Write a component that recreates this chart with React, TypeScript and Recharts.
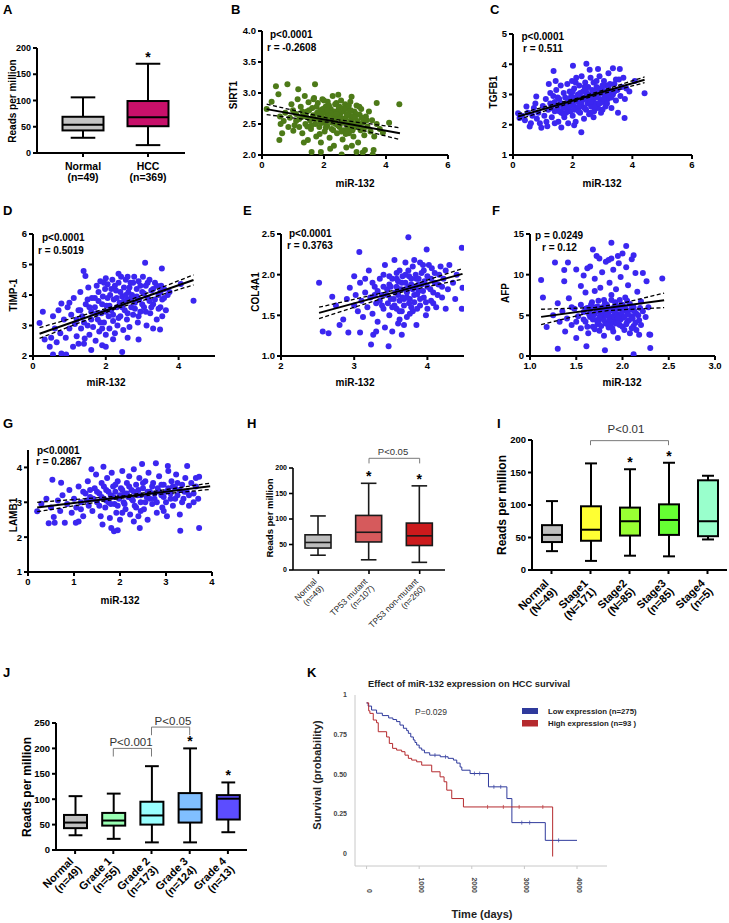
import React from 'react';
import { ScatterChart, Scatter, XAxis, YAxis, BarChart, Bar, ReferenceLine, LineChart, Line } from 'recharts';

const FONT = "'Liberation Sans', Arial, Helvetica, sans-serif";

// ---------------- Panel A (box) ----------------
const aCategories = ['Normal', 'HCC'];
const aCounts = ['(n=49)', '(n=369)'];
const aMin = [29, 15];
const aQ1 = [43, 51];
const aMedian = [54, 68];
const aQ3 = [69, 99];
const aMax = [106, 170];
const aStar = [false, true];
const aColors = ['#c4c4c4', '#c8106a'];

// ---------------- Panel H (box) ----------------
const hCategories = ['Normal', 'TP53 mutant', 'TP53 non-mutant'];
const hCounts = ['(n=49)', '(n=107)', '(n=260)'];
const hMin = [29, 20, 15];
const hQ1 = [43, 55, 48];
const hMedian = [54, 74, 67];
const hQ3 = [69, 107, 92];
const hMax = [106, 170, 165];
const hStar = [false, true, true];
const hColors = ['#bdbdbd', '#d65a5c', '#cc1a1c'];
const hBrackets = [{ from: 'TP53 mutant', to: 'TP53 non-mutant', y: 219, drop: 209 }];

// ---------------- Panel I (box) ----------------
const iCategories = ['Normal', 'Stage1', 'Stage2', 'Stage3', 'Stage4'];
const iCounts = ['(N=49)', '(N=171)', '(N=85)', '(n=85)', '(n=5)'];
const iMin = [29, 14, 22, 21, 47];
const iQ1 = [43, 45, 53, 54, 52];
const iMedian = [54, 62, 75, 77, 75];
const iQ3 = [69, 98, 96, 101, 138];
const iMax = [106, 164, 155, 165, 145];
const iStar = [false, false, true, true, false];
const iColors = ['#bfbfbf', '#ffff33', '#99ff33', '#66ff33', '#99ffcc'];
const iBrackets = [{ from: 'Stage1', to: 'Stage3', y: 199, drop: 192 }];

// ---------------- Panel J (box) ----------------
const jCategories = ['Normal', 'Grade 1', 'Grade 2', 'Grade 3', 'Grade 4'];
const jCounts = ['(n=49)', '(n=55)', '(n=173)', '(n=124)', '(n=13)'];
const jMin = [29, 22, 15, 15, 35];
const jQ1 = [43, 48, 50, 54, 60];
const jMedian = [54, 58, 68, 80, 101];
const jQ3 = [69, 73, 95, 112, 108];
const jMax = [106, 111, 165, 200, 133];
const jStar = [false, false, false, true, true];
const jColors = ['#bfbfbf', '#99ffb3', '#99ffff', '#80bfff', '#5c4dff'];
const jBrackets = [
  { from: 'Grade 1', to: 'Grade 2', y: 200, drop: 184 },
  { from: 'Grade 2', to: 'Grade 3', y: 242, drop: 226 },
];

// ---------------- Scatter panels ----------------
const sirt1Points: [number, number][] = [
  [0.15,2.74],[0.31,2.86],[0.45,3.11],[0.53,2.98],[0.56,2.24],[0.58,2.62],[0.82,3.14],[1.17,3.06],[1.6,2.05],[1.71,3.14],[2.57,2.01],[2.46,2.97],[2.89,2.94],[3.05,2.05],[3.25,2.04],[3.32,2.08],[3.6,2.08],[3.57,2.01],[3.7,2.84],[4.1,2.52],[4.43,2.82],[1.01,2.39],
  [0.6,2.5],[0.7,2.55],[0.75,2.68],[0.9,2.6],[0.95,2.82],[1.0,2.72],[1.05,2.48],[1.1,2.66],[1.15,2.9],[1.2,2.58],[1.25,2.78],[1.3,2.35],[1.32,2.62],[1.38,2.95],[1.4,2.5],[1.45,2.7],[1.48,2.24],[1.5,2.85],[1.55,2.56],[1.58,2.42],[1.62,2.76],[1.65,2.64],[1.68,2.92],[1.72,2.5],[1.75,2.3],[1.78,2.68],[1.8,2.84],[1.82,2.58],[1.85,2.45],[1.88,2.72],[1.9,2.2],[1.92,2.62],[1.95,2.9],[1.98,2.52],[2.0,2.68],[2.02,2.38],[2.05,2.78],[2.08,2.6],[2.1,2.47],[2.12,2.86],[2.15,2.66],[2.18,2.28],[2.2,2.56],[2.22,2.74],[2.25,2.42],[2.28,2.95],[2.3,2.62],[2.32,2.15],[2.35,2.7],[2.38,2.5],[2.4,2.84],[2.42,2.35],[2.45,2.6],[2.48,2.76],[2.5,2.45],[2.52,2.66],[2.55,2.88],[2.58,2.55],[2.6,2.25],[2.62,2.7],[2.65,2.4],[2.68,2.82],[2.7,2.6],[2.72,2.12],[2.75,2.5],[2.78,2.74],[2.8,2.35],[2.82,2.64],[2.85,2.86],[2.88,2.48],[2.9,2.58],[2.95,2.3],[2.98,2.7],[3.0,2.45],[3.05,2.8],[3.08,2.55],[3.1,2.2],[3.15,2.65],[3.18,2.4],[3.2,2.74],[3.25,2.52],[3.3,2.32],[3.35,2.62],[3.4,2.46],[3.45,2.7],[3.5,2.38],[3.55,2.56],[3.62,2.3],[3.7,2.5],[3.8,2.42],[3.9,2.36],[1.35,2.2],[1.9,2.05],[2.2,2.1],[2.9,2.15],[0.85,2.45],[0.65,2.35],
  [1.42,2.62],[1.52,2.72],[1.6,2.48],[1.7,2.58],[1.76,2.78],[1.84,2.66],[1.9,2.52],[1.96,2.74],[2.04,2.56],[2.06,2.44],[2.14,2.58],[2.16,2.8],[2.24,2.66],[2.26,2.52],[2.34,2.58],[2.36,2.82],[2.44,2.48],[2.46,2.7],[2.54,2.6],[2.56,2.38],[2.64,2.58],[2.66,2.76],[2.74,2.66],[2.76,2.42],[2.84,2.55],[2.86,2.72],[2.94,2.62],[2.96,2.5],[3.04,2.66],[3.12,2.48],[3.22,2.6],[3.28,2.42],[3.38,2.56],[1.46,2.46],[1.66,2.9],[1.86,2.34],[2.0,2.88],[2.1,2.72],[2.3,2.4],[2.4,2.66],[2.5,2.78],[2.6,2.52],[2.7,2.34],[2.8,2.8],[2.92,2.4],[3.0,2.6],[3.14,2.78],[1.3,2.7],[1.2,2.45],[1.1,2.55],
];
const sirt1Fit: [number, number][] = [[0.15,2.74],[4.45,2.35]];
const sirt1Upper: [number, number][] = [[0.15,2.82],[2.2,2.585],[4.45,2.44]];
const sirt1Lower: [number, number][] = [[0.15,2.65],[2.2,2.525],[4.45,2.25]];

const tgfb1Points: [number, number][] = [
  [0.17,2.38],[0.56,1.94],[0.78,2.93],[1.36,3.78],[2.01,3.95],[2.29,1.75],[2.46,4.02],[1.62,1.91],[3.74,2.22],[4.41,3.04],[4.08,3.45],[3.58,3.84],[3.35,3.87],[1.43,3.45],[0.22,2.22],[0.95,1.9],[2.57,3.82],[2.85,3.84],
  [0.3,2.3],[0.4,2.15],[0.5,2.4],[0.6,2.05],[0.65,2.3],[0.7,2.55],[0.8,2.2],[0.85,2.4],[0.9,2.05],[1.0,2.62],[1.05,2.3],[1.1,2.85],[1.12,2.1],[1.18,2.5],[1.2,3.35],[1.25,2.7],[1.3,2.25],[1.35,2.95],[1.4,2.45],[1.45,3.15],[1.5,2.6],[1.52,2.1],[1.55,2.85],[1.6,3.3],[1.62,2.4],[1.65,2.7],[1.7,3.05],[1.72,2.25],[1.75,2.9],[1.8,2.55],[1.82,3.35],[1.85,2.05],[1.88,2.75],[1.9,3.1],[1.92,2.45],[1.95,2.95],[1.98,3.45],[2.0,2.3],[2.02,2.65],[2.05,3.2],[2.08,2.85],[2.1,2.1],[2.12,3.55],[2.15,2.55],[2.18,3.0],[2.2,2.75],[2.22,3.3],[2.25,2.4],[2.28,2.9],[2.3,3.6],[2.32,2.6],[2.35,3.1],[2.38,2.2],[2.4,2.85],[2.42,3.4],[2.45,2.5],[2.48,3.0],[2.5,2.7],[2.52,3.25],[2.55,2.35],[2.58,2.95],[2.6,3.55],[2.62,2.6],[2.65,3.15],[2.68,2.8],[2.7,3.4],[2.72,2.45],[2.75,3.0],[2.78,2.7],[2.8,3.25],[2.85,2.55],[2.88,3.05],[2.9,3.6],[2.92,2.85],[2.95,2.4],[2.98,3.2],[3.0,2.75],[3.05,3.45],[3.08,2.95],[3.1,2.6],[3.15,3.3],[3.18,2.85],[3.2,3.7],[3.25,3.1],[3.3,2.55],[3.35,3.0],[3.4,3.35],[3.45,2.8],[3.5,3.15],[3.52,2.4],[3.55,3.5],[3.6,2.95],[3.65,3.25],[3.7,3.55],[3.75,2.85],[3.8,3.2],[3.9,3.1],[1.15,1.95],[1.4,2.05],[0.45,2.6],[0.75,2.7],[1.25,3.05],[2.05,1.98],
  [1.55,2.45],[1.6,2.7],[1.68,2.55],[1.75,2.65],[1.78,2.4],[1.85,2.85],[1.9,2.6],[1.95,2.75],[2.0,2.9],[2.05,2.5],[2.1,2.8],[2.15,2.95],[2.2,2.6],[2.25,3.05],[2.3,2.75],[2.35,2.9],[2.4,2.55],[2.45,3.1],[2.5,2.85],[2.55,3.0],[2.6,2.75],[2.65,2.95],[2.7,3.1],[2.75,2.6],[2.8,2.9],[2.85,3.2],[2.9,2.7],[2.95,3.05],[3.0,3.3],[3.05,2.85],[3.1,3.1],[3.15,2.7],[3.2,3.0],[3.25,3.35],[3.3,2.9],[3.4,3.1],[3.45,3.5],[1.5,2.9],[1.7,2.35],[2.0,3.1],[2.2,2.45],[2.4,3.25],[2.6,2.4],[2.8,3.45],[3.0,2.5],[3.2,3.25],[1.3,2.55],[1.4,2.75],[2.1,3.4],[2.7,2.25],
];
const tgfb1Fit: [number, number][] = [[0.17,2.27],[4.41,3.49]];
const tgfb1Upper: [number, number][] = [[0.17,2.36],[2.3,2.92],[4.41,3.58]];
const tgfb1Lower: [number, number][] = [[0.17,2.17],[2.3,2.84],[4.41,3.39]];

const timp1Points: [number, number][] = [
  [0.18,3.08],[0.32,2.54],[0.55,2.05],[0.78,2.08],[0.91,2.05],[0.78,3.72],[1.39,4.79],[1.44,4.62],[1.42,2.57],[2.45,2.13],[3.08,5.06],[3.54,4.87],[3.49,2.87],[4.41,3.81],[4.06,4.36],[2.9,2.54],[0.46,2.3],[0.27,3.45],
  [0.5,2.6],[0.55,3.3],[0.6,2.9],[0.65,2.45],[0.7,3.5],[0.75,2.75],[0.85,3.2],[0.9,2.6],[0.95,3.6],[1.0,2.9],[1.05,3.35],[1.1,2.3],[1.12,3.9],[1.15,3.05],[1.2,2.65],[1.25,3.5],[1.3,4.1],[1.32,2.9],[1.35,3.3],[1.4,2.4],[1.45,3.7],[1.5,3.0],[1.52,4.25],[1.55,2.7],[1.6,3.45],[1.62,3.9],[1.65,2.95],[1.7,3.6],[1.72,2.5],[1.75,4.3],[1.78,3.2],[1.8,3.8],[1.82,2.8],[1.85,4.45],[1.88,3.4],[1.9,2.35],[1.92,3.95],[1.95,3.1],[1.98,4.2],[2.0,2.7],[2.02,3.65],[2.05,4.35],[2.08,3.3],[2.1,2.9],[2.12,4.0],[2.15,3.5],[2.18,4.5],[2.2,3.15],[2.22,3.85],[2.25,2.75],[2.28,4.15],[2.3,3.6],[2.32,3.0],[2.35,4.4],[2.38,3.75],[2.4,3.3],[2.42,4.6],[2.45,3.95],[2.48,2.85],[2.5,4.25],[2.52,3.5],[2.55,4.5],[2.58,3.2],[2.6,3.85],[2.62,4.1],[2.65,2.95],[2.68,4.4],[2.7,3.6],[2.72,4.0],[2.75,3.35],[2.78,4.6],[2.8,3.75],[2.85,4.2],[2.88,3.1],[2.9,4.45],[2.92,3.85],[2.95,3.45],[3.0,4.1],[3.02,4.6],[3.05,3.6],[3.1,4.3],[3.12,3.0],[3.15,3.9],[3.2,4.5],[3.22,3.4],[3.25,4.15],[3.3,3.7],[3.35,4.4],[3.4,3.2],[3.45,4.0],[3.5,3.6],[3.52,4.3],[3.55,3.85],[3.6,4.2],[3.65,3.5],[3.7,4.0],[3.75,4.1],[1.25,2.4],[2.0,2.3],[1.6,2.2],[2.6,2.6],[1.0,3.75],[3.3,2.9],
  [1.55,3.6],[1.6,3.2],[1.7,3.9],[1.75,3.4],[1.8,4.1],[1.85,3.1],[1.9,3.7],[1.95,4.4],[2.0,3.45],[2.05,3.9],[2.1,3.65],[2.15,4.2],[2.2,3.35],[2.25,4.3],[2.3,3.9],[2.35,3.25],[2.4,4.1],[2.45,3.6],[2.5,3.8],[2.55,4.0],[2.6,3.4],[2.65,4.25],[2.7,3.9],[2.75,4.4],[2.8,3.55],[2.85,3.95],[2.9,3.3],[2.95,4.3],[3.0,3.7],[3.05,4.05],[3.1,3.45],[3.15,4.4],[3.2,3.8],[3.25,3.6],[3.3,4.2],[3.35,3.85],[3.4,4.3],[3.45,3.55],[3.5,4.1],[3.55,3.3],[3.6,3.9],[1.4,3.1],[1.3,3.5],[1.2,3.2],[1.5,3.85],[2.0,4.55],[2.35,4.7],[2.6,4.6],[1.9,2.9],[2.2,2.55],
];
const timp1Fit: [number, number][] = [[0.18,2.73],[4.41,4.49]];
const timp1Upper: [number, number][] = [[0.18,2.93],[2.2,3.62],[4.41,4.66]];
const timp1Lower: [number, number][] = [[0.18,2.58],[2.2,3.52],[4.41,4.33]];

const col4a1Points: [number, number][] = [
  [2.52,1.9],[2.57,1.3],[2.65,1.28],[2.7,1.73],[2.8,1.38],[2.92,1.29],[3.07,2.28],[3.08,1.29],[3.26,1.26],[3.23,1.14],[3.47,1.12],[3.65,1.26],[3.74,2.46],[3.99,2.31],[4.47,2.33],[4.47,1.58],[4.48,1.84],[4.25,1.58],[2.94,1.84],[3.0,1.98],
  [2.85,1.45],[2.9,1.7],[3.0,1.62],[3.02,1.75],[3.05,1.55],[3.08,1.9],[3.1,1.68],[3.12,1.48],[3.15,1.78],[3.18,1.6],[3.2,2.05],[3.22,1.72],[3.25,1.52],[3.28,1.85],[3.3,1.65],[3.32,1.42],[3.35,1.95],[3.38,1.75],[3.4,1.58],[3.42,2.12],[3.45,1.82],[3.48,1.5],[3.5,1.7],[3.52,1.95],[3.55,1.62],[3.55,2.18],[3.58,1.85],[3.6,1.4],[3.6,1.75],[3.62,2.05],[3.65,1.55],[3.65,1.9],[3.68,1.7],[3.7,2.15],[3.7,1.82],[3.72,1.48],[3.75,1.98],[3.75,1.65],[3.78,1.88],[3.8,2.1],[3.8,1.55],[3.82,1.75],[3.85,1.95],[3.85,1.38],[3.88,1.8],[3.9,2.15],[3.9,1.62],[3.92,1.88],[3.95,1.72],[3.95,2.05],[3.98,1.5],[4.0,1.85],[4.02,2.12],[4.05,1.68],[4.05,1.95],[4.08,1.78],[4.1,2.02],[4.12,1.6],[4.15,1.88],[4.18,2.1],[4.2,1.72],[4.22,1.95],[4.25,2.05],[4.28,1.82],[4.3,2.12],[4.35,1.9],[4.38,1.7],[4.4,2.0],[3.42,1.35],[3.52,1.3],[3.68,1.38],[3.35,1.68],[3.58,1.58],[3.62,1.68],[3.72,1.72],[3.78,1.6],[3.48,1.88],[3.88,1.95],[3.4,2.0],[3.15,1.95],[2.75,1.62],[3.58,1.95],[3.82,2.18],[4.0,1.58],[3.3,1.3],
  [3.32,1.8],[3.38,1.62],[3.45,1.75],[3.5,1.85],[3.52,1.6],[3.56,1.78],[3.6,1.92],[3.62,1.55],[3.64,1.82],[3.66,1.98],[3.68,1.62],[3.7,1.9],[3.72,1.78],[3.74,2.05],[3.76,1.7],[3.78,1.95],[3.8,1.82],[3.82,1.66],[3.84,2.0],[3.86,1.76],[3.88,1.88],[3.9,1.7],[3.92,2.02],[3.94,1.8],[3.96,1.92],[3.98,1.66],[4.0,1.98],[4.04,1.82],[4.06,2.08],[4.1,1.9],[4.14,1.75],[4.16,2.0],[4.2,1.85],[3.46,1.65],[3.54,1.7],[3.66,1.72],[3.74,1.85],[3.86,1.58],[3.58,2.02],[3.48,1.98],[3.62,1.45],[3.76,1.52],[3.4,1.85],[3.28,1.75],[3.25,1.9],[3.94,2.12],[4.08,1.65],[3.7,2.0],[3.6,1.82],[3.84,1.85],
];
const col4a1Fit: [number, number][] = [[2.52,1.53],[4.48,2.01]];
const col4a1Upper: [number, number][] = [[2.52,1.6],[3.65,1.83],[4.48,2.075]];
const col4a1Lower: [number, number][] = [[2.52,1.46],[3.65,1.785],[4.48,1.945]];

const afpPoints: [number, number][] = [
  [1.12,9.33],[1.14,7.19],[1.27,11.5],[1.3,0.9],[1.41,11.5],[1.37,10.56],[1.37,9.2],[1.5,10.64],[1.61,1.19],[1.81,0.7],[2.12,0.2],[2.3,0.98],[2.29,2.63],[2.43,9.53],[2.26,9.2],[1.88,13.93],[2.04,13.52],[1.68,13.1],[2.12,12.4],[1.18,3.57],
  [1.25,5.0],[1.3,6.5],[1.32,4.2],[1.35,5.5],[1.38,3.0],[1.4,4.6],[1.42,7.1],[1.45,3.8],[1.48,5.8],[1.5,2.2],[1.52,4.9],[1.55,6.3],[1.55,3.4],[1.58,5.4],[1.6,4.2],[1.6,7.8],[1.62,5.9],[1.63,2.8],[1.65,4.8],[1.65,11.0],[1.67,6.6],[1.68,3.6],[1.7,5.2],[1.7,9.5],[1.72,4.4],[1.72,12.3],[1.73,6.1],[1.75,3.1],[1.75,5.6],[1.76,8.4],[1.78,4.7],[1.78,10.3],[1.8,6.9],[1.8,2.5],[1.8,5.1],[1.82,4.0],[1.82,11.6],[1.83,6.3],[1.85,3.5],[1.85,5.4],[1.86,9.0],[1.87,4.6],[1.88,7.5],[1.88,12.0],[1.9,5.9],[1.9,3.0],[1.9,10.6],[1.92,4.3],[1.92,6.6],[1.93,8.2],[1.95,5.1],[1.95,2.2],[1.96,11.4],[1.97,3.8],[1.98,6.1],[1.98,9.7],[2.0,4.7],[2.0,12.6],[2.01,5.6],[2.02,3.2],[2.03,7.2],[2.04,10.9],[2.05,4.2],[2.05,5.4],[2.06,8.7],[2.08,6.4],[2.08,2.8],[2.1,4.9],[2.1,11.9],[2.12,6.0],[2.12,3.7],[2.14,10.2],[2.15,5.2],[2.16,7.9],[2.18,4.4],[2.18,2.6],[2.2,6.7],[2.22,5.5],[2.22,10.2],[2.25,4.8],[2.28,6.0],[2.3,2.6],[1.58,9.9],[1.62,10.8],[1.75,12.0],[1.95,12.3],[1.85,11.8],[1.7,8.0],[1.88,4.0],[1.78,6.0],[1.68,4.5],[1.98,4.5],[2.05,6.8],[1.92,5.3],[1.82,5.8],[1.73,3.9],[1.65,5.7],[2.15,3.2],[1.55,8.6],[1.45,6.0],[1.5,4.2],
  [1.58,4.5],[1.6,5.8],[1.62,3.6],[1.64,5.1],[1.66,6.3],[1.68,4.9],[1.7,3.3],[1.7,6.0],[1.72,5.5],[1.74,4.2],[1.74,6.8],[1.76,5.0],[1.77,3.7],[1.79,5.7],[1.8,4.4],[1.81,6.5],[1.83,5.0],[1.84,3.9],[1.84,6.0],[1.86,4.5],[1.87,5.6],[1.88,6.9],[1.89,3.4],[1.9,4.9],[1.91,5.5],[1.93,4.0],[1.93,6.2],[1.94,5.0],[1.96,4.3],[1.96,5.8],[1.97,6.9],[1.99,5.2],[2.0,3.6],[2.0,6.3],[2.02,4.8],[2.03,5.9],[2.04,3.9],[2.06,5.1],[2.07,4.4],[2.09,5.7],[2.1,3.4],[2.11,4.6],[2.13,5.5],[2.14,4.1],[2.17,5.0],[2.19,5.9],[2.2,3.8],[1.75,4.75],[1.85,4.9],[1.95,4.7],
];
const afpFit: [number, number][] = [[1.12,4.81],[2.45,6.86]];
const afpUpper: [number, number][] = [[1.12,5.75],[1.7,5.95],[2.0,6.5],[2.45,7.73]];
const afpLower: [number, number][] = [[1.12,3.86],[1.6,5.2],[1.85,5.6],[2.45,5.95]];

const lamb1Points: [number, number][] = [
  [0.2,2.74],[0.53,3.65],[0.72,3.56],[0.56,2.58],[0.58,2.41],[0.8,2.41],[1.04,2.41],[1.62,2.36],[1.81,2.26],[1.87,2.17],[2.43,2.26],[3.31,2.18],[3.72,2.26],[2.78,4.12],[1.64,4.02],[3.46,4.04],[3.72,3.73],[0.29,2.96],[2.48,4.1],[3.04,4.04],
  [0.4,3.1],[0.5,2.85],[0.65,3.05],[0.7,2.75],[0.75,3.2],[0.85,2.95],[0.9,3.35],[0.95,2.7],[1.0,3.1],[1.05,2.85],[1.1,3.45],[1.15,3.0],[1.2,2.6],[1.25,3.25],[1.3,3.6],[1.32,2.9],[1.35,3.15],[1.4,2.75],[1.45,3.4],[1.48,3.8],[1.5,3.0],[1.55,3.25],[1.58,2.6],[1.6,3.55],[1.65,3.1],[1.68,2.85],[1.7,3.35],[1.72,3.7],[1.75,3.0],[1.78,2.55],[1.8,3.2],[1.82,3.85],[1.85,3.45],[1.88,2.95],[1.9,3.3],[1.92,2.7],[1.95,3.6],[1.98,3.1],[2.0,2.5],[2.02,3.4],[2.05,3.9],[2.08,3.0],[2.1,3.25],[2.12,2.8],[2.15,3.55],[2.18,3.15],[2.2,3.75],[2.22,2.65],[2.25,3.35],[2.28,3.05],[2.3,3.95],[2.32,2.9],[2.35,3.5],[2.38,3.2],[2.4,2.6],[2.42,3.7],[2.45,3.0],[2.5,3.4],[2.52,2.8],[2.55,3.6],[2.58,3.15],[2.6,2.5],[2.62,3.85],[2.65,3.3],[2.7,2.95],[2.72,3.55],[2.75,3.1],[2.8,2.7],[2.82,3.4],[2.85,3.75],[2.9,3.2],[2.92,2.85],[2.95,3.5],[3.0,3.3],[3.02,2.6],[3.05,3.9],[3.1,3.1],[3.12,3.6],[3.15,2.9],[3.2,3.4],[3.22,3.8],[3.25,3.2],[3.3,2.65],[3.35,3.5],[3.38,3.1],[3.42,3.7],[3.45,3.3],[3.5,2.9],[3.55,3.55],[3.6,3.25],[3.65,3.45],[3.7,3.1],[1.38,3.95],[0.45,2.4],[1.95,2.2],[2.3,2.45],[1.1,2.45],
  [1.42,3.1],[1.5,3.3],[1.55,2.9],[1.6,3.15],[1.65,3.45],[1.7,3.05],[1.75,3.3],[1.8,2.95],[1.85,3.15],[1.9,3.5],[1.95,2.9],[2.0,3.2],[2.05,3.35],[2.1,2.95],[2.15,3.25],[2.2,3.45],[2.25,3.1],[2.3,3.3],[2.35,2.85],[2.4,3.35],[2.45,3.2],[2.5,3.55],[2.55,3.0],[2.6,3.3],[2.65,3.1],[2.7,3.45],[2.75,3.25],[2.8,3.0],[2.85,3.3],[2.9,3.5],[2.95,3.15],[3.0,3.0],[3.05,3.4],[3.1,3.25],[3.15,3.45],[3.2,3.1],[3.25,3.55],[3.3,3.35],[3.35,3.0],[3.4,3.3],[1.35,3.35],[1.28,3.05],[1.2,3.3],[1.15,2.8],[2.05,2.7],[2.45,2.75],[2.95,2.75],[3.5,3.2],[3.6,3.0],[3.65,3.7],
];
const lamb1Fit: [number, number][] = [[0.2,2.85],[3.96,3.46]];
const lamb1Upper: [number, number][] = [[0.2,3.0],[2.1,3.19],[3.96,3.55]];
const lamb1Lower: [number, number][] = [[0.2,2.73],[2.1,3.13],[3.96,3.37]];

// ---------------- Panel K (Kaplan-Meier) ----------------
const lowExprSurvival: [number, number, number][] = [
  [0,0.95,0],[30,0.93,0],[95,0.905,0],[190,0.885,0],[300,0.87,0],[420,0.855,0],[500,0.845,0],[571,0.832,0],[635,0.81,0],[700,0.79,0],[762,0.775,0],[794,0.758,0],[840,0.735,0],[889,0.716,0],[920,0.7,0],[952,0.684,0],[1000,0.665,0],[1048,0.652,0],[1100,0.635,0],[1200,0.62,0],[1300,0.62,1],[1400,0.61,0],[1500,0.61,1],[1550,0.6,0],[1651,0.589,0],[1714,0.57,0],[1778,0.545,0],[1810,0.525,0],[1968,0.504,0],[2050,0.504,1],[2150,0.504,1],[2317,0.42,0],[2420,0.42,1],[2550,0.42,1],[2667,0.346,0],[2762,0.194,0],[2950,0.194,1],[3100,0.194,1],[3397,0.082,0],[3650,0.082,1],[4000,0.082,0],
];
const highExprSurvival: [number, number, number][] = [
  [0,0.95,0],[40,0.9,0],[63,0.884,0],[127,0.842,0],[190,0.825,0],[222,0.768,0],[381,0.735,0],[432,0.694,0],[495,0.663,0],[571,0.652,0],[667,0.642,0],[730,0.62,0],[794,0.6,0],[857,0.589,0],[952,0.578,0],[1048,0.557,0],[1238,0.515,0],[1397,0.483,0],[1473,0.452,0],[1524,0.399,0],[1619,0.346,0],[1841,0.293,0],[2300,0.293,1],[2600,0.293,1],[2900,0.293,1],[3350,0.293,1],[3537,-0.02,0],
];
const kmXTicks = [0, 1000, 2000, 3000, 4000];
const kmYTicks = [0, 0.25, 0.5, 0.75, 1];
const kmYLabels = ['0', '0.25', '0.50', '0.75', '1'];

// ---------------- helpers ----------------
type Rect = { x0: number; y0: number; x1: number; y1: number };
const toXY = (a: [number, number][]) => a.map(([x, y]) => ({ x, y }));

function frame(r: Rect, yw: number, xh: number, mt = 30) {
  return {
    left: r.x0 - yw - 5,
    top: r.y0 - mt,
    width: r.x1 - r.x0 + yw + 15,
    height: r.y1 - r.y0 + mt + xh,
    margin: { top: mt, right: 10, bottom: 0, left: 5 },
  };
}

const AX = { stroke: '#000', strokeWidth: 2 };

function buildRows(cats: string[], mn: number[], q1: number[], md: number[], q3: number[], mx: number[], star: boolean[], colors: string[]) {
  return cats.map((c, i) => ({ name: c, range: [mn[i], mx[i]], q1: q1[i], med: md[i], q3: q3[i], star: star[i], color: colors[i] }));
}

function BoxShape(props: any) {
  const { x, y, width, height, payload, sw, boxStroke } = props;
  if (!payload || x == null) return <g />;
  const top = Math.min(y, y + height);
  const bot = Math.max(y, y + height);
  const [mn, mx] = payload.range;
  const px = (v: number) => bot - ((v - mn) / (mx - mn)) * (bot - top);
  const cx = x + width / 2;
  const cap = width * 0.6;
  const s = boxStroke || '#000';
  return (
    <g>
      <line x1={cx} x2={cx} y1={px(mx)} y2={px(payload.q3)} stroke={s} strokeWidth={sw} />
      <line x1={cx} x2={cx} y1={px(payload.q1)} y2={px(mn)} stroke={s} strokeWidth={sw} />
      <line x1={cx - cap / 2} x2={cx + cap / 2} y1={px(mx)} y2={px(mx)} stroke={s} strokeWidth={sw} />
      <line x1={cx - cap / 2} x2={cx + cap / 2} y1={px(mn)} y2={px(mn)} stroke={s} strokeWidth={sw} />
      <rect x={x} y={px(payload.q3)} width={width} height={px(payload.q1) - px(payload.q3)} fill={payload.color} stroke={s} strokeWidth={sw} />
      <line x1={x} x2={x + width} y1={px(payload.med)} y2={px(payload.med)} stroke={s} strokeWidth={sw} />
      {payload.star ? (
        <text x={cx} y={px(mx) - 2} textAnchor="middle" fontSize={14} fontWeight={700} fontFamily={FONT} fill="#000">*</text>
      ) : null}
    </g>
  );
}

function makeTick(cats: string[], counts: string[], o: { fs: number; bold: boolean; rotate: boolean; dx: number; dy: number; lh: number; fill?: string }) {
  return (props: any) => {
    const { x, y, payload } = props;
    const i = cats.indexOf(payload.value);
    const common = { fontSize: o.fs, fontWeight: o.bold ? 700 : 400, fontFamily: FONT, fill: o.fill || '#000' };
    if (!o.rotate) {
      return (
        <g>
          <text x={x + o.dx} y={y + o.dy} textAnchor="middle" {...common}>{cats[i]}</text>
          <text x={x + o.dx} y={y + o.dy + o.lh} textAnchor="middle" {...common}>{counts[i]}</text>
        </g>
      );
    }
    return (
      <g transform={`translate(${x + o.dx},${y + o.dy}) rotate(-45)`}>
        <text x={0} y={0} textAnchor="end" {...common}>{cats[i]}</text>
        <text x={0} y={o.lh} textAnchor="end" {...common}>{counts[i]}</text>
      </g>
    );
  };
}

function BoxPanel(p: {
  r: Rect; rows: any[]; yTicks: number[]; yDomain: [number, number]; barSize: number; tick: any; xh: number;
  padding?: { left: number; right: number }; brackets?: { from: string; to: string; y: number; drop: number }[];
  yFs: number; sw: number; boxStroke?: string; axisW?: number;
}) {
  const f = frame(p.r, 40, p.xh);
  const aw = p.axisW ?? 2;
  const axLine = { stroke: '#000', strokeWidth: aw };
  return (
    <div style={{ position: 'absolute', left: f.left, top: f.top }}>
      <BarChart width={f.width} height={f.height} margin={f.margin} data={p.rows}>
        <XAxis dataKey="name" type="category" interval={0} height={p.xh} axisLine={axLine} tickLine={axLine}
          tickSize={4} tickMargin={2} padding={p.padding || { left: 0, right: 0 }} tick={p.tick} />
        <YAxis type="number" domain={p.yDomain} ticks={p.yTicks} width={40} axisLine={axLine} tickLine={axLine}
          tickSize={4} tickMargin={2} interval={0} allowDataOverflow
          tick={{ fontSize: p.yFs, fontWeight: 700, fill: '#000', fontFamily: FONT }} />
        <Bar dataKey="range" barSize={p.barSize} isAnimationActive={false}
          shape={(sp: any) => <BoxShape {...sp} sw={p.sw} boxStroke={p.boxStroke} />} />
        {(p.brackets || []).flatMap((b, k) => [
          <ReferenceLine key={`h${k}`} segment={[{ x: b.from, y: b.y }, { x: b.to, y: b.y }]} stroke="#7a7a7a" strokeWidth={1} ifOverflow="visible" />,
          <ReferenceLine key={`l${k}`} segment={[{ x: b.from, y: b.y }, { x: b.from, y: b.drop }]} stroke="#7a7a7a" strokeWidth={1} ifOverflow="visible" />,
          <ReferenceLine key={`r${k}`} segment={[{ x: b.to, y: b.y }, { x: b.to, y: b.drop }]} stroke="#7a7a7a" strokeWidth={1} ifOverflow="visible" />,
        ])}
      </BarChart>
    </div>
  );
}

const Dot = (color: string) => (props: any) => (props.cx == null ? <g /> : <circle cx={props.cx} cy={props.cy} r={3} fill={color} />);
const NoShape = () => <g />;

function ScatterPanel(p: {
  r: Rect; pts: [number, number][]; fit: [number, number][]; upper: [number, number][]; lower: [number, number][];
  color: string; xDomain: [number, number]; xTicks: number[]; yDomain: [number, number]; yTicks: number[];
  fmtX?: (v: number) => string; fmtY?: (v: number) => string;
}) {
  const f = frame(p.r, 40, 30);
  const tickStyle = { fontSize: 9.5, fontWeight: 700, fill: '#000', fontFamily: FONT };
  return (
    <div style={{ position: 'absolute', left: f.left, top: f.top }}>
      <ScatterChart width={f.width} height={f.height} margin={f.margin}>
        <XAxis type="number" dataKey="x" domain={p.xDomain} ticks={p.xTicks} allowDataOverflow height={30}
          axisLine={AX} tickLine={AX} tickSize={4} tickMargin={2} interval={0} tick={tickStyle} tickFormatter={p.fmtX} />
        <YAxis type="number" dataKey="y" domain={p.yDomain} ticks={p.yTicks} allowDataOverflow width={40}
          axisLine={AX} tickLine={AX} tickSize={4} tickMargin={2} interval={0} tick={tickStyle} tickFormatter={p.fmtY} />
        <Scatter data={toXY(p.pts)} shape={Dot(p.color)} isAnimationActive={false} />
        <Scatter data={toXY(p.upper)} shape={NoShape} line={{ stroke: '#000', strokeWidth: 1.3, strokeDasharray: '4 2.5' }} isAnimationActive={false} />
        <Scatter data={toXY(p.lower)} shape={NoShape} line={{ stroke: '#000', strokeWidth: 1.3, strokeDasharray: '4 2.5' }} isAnimationActive={false} />
        <Scatter data={toXY(p.fit)} shape={NoShape} line={{ stroke: '#000', strokeWidth: 2 }} isAnimationActive={false} />
      </ScatterChart>
    </div>
  );
}

const KMTick = (props: any) => {
  const { x, y, payload } = props;
  return (
    <text transform={`translate(${x},${y + 22}) rotate(90)`} textAnchor="end" fontSize={7} fontWeight={700}
      fontFamily={FONT} fill="#444">{payload.value}</text>
  );
};

const censorDot = (color: string) => (props: any) => {
  const { cx, cy, payload } = props;
  if (!payload || !payload.c || cx == null) return <g key={`${cx}-${cy}`} />;
  return <line key={`${cx}-${cy}`} x1={cx} x2={cx} y1={cy - 2} y2={cy + 2} stroke={color} strokeWidth={0.7} />;
};

function KMPanel() {
  const r: Rect = { x0: 355, y0: 695, x1: 607, y1: 866 };
  const f = frame(r, 40, 40);
  const low = lowExprSurvival.map(([t, s, c]) => ({ t, s, c }));
  const high = highExprSurvival.map(([t, s, c]) => ({ t, s, c }));
  const grey = { stroke: '#c8c8c8', strokeWidth: 1 };
  return (
    <div style={{ position: 'absolute', left: f.left, top: f.top }}>
      <LineChart width={f.width} height={f.height} margin={f.margin}>
        <XAxis type="number" dataKey="t" domain={[-220, 4570]} ticks={kmXTicks} allowDataOverflow height={40}
          axisLine={grey} tickLine={grey} tickSize={3} tickMargin={2} interval={0} tick={<KMTick />} />
        <YAxis type="number" domain={[-0.08, 1]} ticks={kmYTicks} allowDataOverflow width={40}
          axisLine={grey} tickLine={false} tickSize={0} tickMargin={8} interval={0}
          tickFormatter={(v: number) => kmYLabels[kmYTicks.indexOf(v)]}
          tick={{ fontSize: 7, fontWeight: 700, fill: '#444', fontFamily: FONT }} />
        <Line data={low} dataKey="s" type="stepAfter" stroke="#2f3a9c" strokeWidth={1} dot={censorDot('#2f3a9c')} activeDot={false} isAnimationActive={false} />
        <Line data={high} dataKey="s" type="stepAfter" stroke="#b52a2e" strokeWidth={1} dot={censorDot('#b52a2e')} activeDot={false} isAnimationActive={false} />
      </LineChart>
    </div>
  );
}

const T = (p: { x: number; y: number; s: string; fs?: number; w?: number; a?: 'start' | 'middle' | 'end'; rot?: boolean; fill?: string }) => (
  <text x={p.rot ? 0 : p.x} y={p.rot ? 0 : p.y} transform={p.rot ? `translate(${p.x},${p.y}) rotate(-90)` : undefined}
    fontSize={p.fs ?? 10} fontWeight={p.w ?? 700} textAnchor={p.a ?? 'start'} fontFamily={FONT} fill={p.fill ?? '#000'}>{p.s}</text>
);

export default function App() {
  const aRows = buildRows(aCategories, aMin, aQ1, aMedian, aQ3, aMax, aStar, aColors);
  const hRows = buildRows(hCategories, hMin, hQ1, hMedian, hQ3, hMax, hStar, hColors);
  const iRows = buildRows(iCategories, iMin, iQ1, iMedian, iQ3, iMax, iStar, iColors);
  const jRows = buildRows(jCategories, jMin, jQ1, jMedian, jQ3, jMax, jStar, jColors);
  const f1 = (v: number) => v.toFixed(1);
  const f0 = (v: number) => String(v);

  return (
    <div style={{ position: 'absolute', left: 0, top: 0, width: 729, height: 923, background: '#fff', fontFamily: FONT, overflow: 'hidden' }}>
      <BoxPanel r={{ x0: 37, y0: 48, x1: 185, y1: 153 }} rows={aRows} yTicks={[0, 50, 100, 150, 200]} yDomain={[0, 200]}
        barSize={41} xh={40} padding={{ left: 13.5, right: 4.5 }} yFs={9} sw={2}
        tick={makeTick(aCategories, aCounts, { fs: 10.5, bold: true, rotate: false, dx: 0, dy: 10.5, lh: 11 })} />

      <ScatterPanel r={{ x0: 262, y0: 31, x1: 448, y1: 155 }} pts={sirt1Points} fit={sirt1Fit} upper={sirt1Upper} lower={sirt1Lower}
        color="#4d7a18" xDomain={[0, 6]} xTicks={[0, 2, 4, 6]} yDomain={[2, 4]} yTicks={[2, 2.5, 3, 3.5, 4]} fmtY={f1} fmtX={f0} />
      <ScatterPanel r={{ x0: 513, y0: 34, x1: 692, y1: 155 }} pts={tgfb1Points} fit={tgfb1Fit} upper={tgfb1Upper} lower={tgfb1Lower}
        color="#3b26f0" xDomain={[0, 6]} xTicks={[0, 2, 4, 6]} yDomain={[1, 5]} yTicks={[1, 2, 3, 4, 5]} fmtX={f0} fmtY={f0} />
      <ScatterPanel r={{ x0: 33, y0: 234, x1: 215, y1: 356 }} pts={timp1Points} fit={timp1Fit} upper={timp1Upper} lower={timp1Lower}
        color="#3b26f0" xDomain={[0, 5]} xTicks={[0, 2, 4]} yDomain={[2, 6]} yTicks={[2, 3, 4, 5, 6]} fmtX={f0} fmtY={f0} />
      <ScatterPanel r={{ x0: 281, y0: 234, x1: 464, y1: 356 }} pts={col4a1Points} fit={col4a1Fit} upper={col4a1Upper} lower={col4a1Lower}
        color="#3b26f0" xDomain={[2, 4.5]} xTicks={[2, 3, 4]} yDomain={[1, 2.5]} yTicks={[1, 1.5, 2, 2.5]} fmtX={f0} fmtY={f1} />
      <ScatterPanel r={{ x0: 530, y0: 234, x1: 715, y1: 356 }} pts={afpPoints} fit={afpFit} upper={afpUpper} lower={afpLower}
        color="#3b26f0" xDomain={[1, 3]} xTicks={[1, 1.5, 2, 2.5, 3]} yDomain={[0, 15]} yTicks={[0, 5, 10, 15]} fmtX={f1} fmtY={f0} />
      <ScatterPanel r={{ x0: 28, y0: 450, x1: 212, y1: 572 }} pts={lamb1Points} fit={lamb1Fit} upper={lamb1Upper} lower={lamb1Lower}
        color="#3b26f0" xDomain={[0, 4]} xTicks={[0, 1, 2, 3, 4]} yDomain={[1, 4.5]} yTicks={[1, 2, 3, 4]} fmtX={f0} fmtY={f0} />

      <BoxPanel r={{ x0: 293, y0: 468, x1: 445, y1: 570 }} rows={hRows} yTicks={[0, 50, 100, 150, 200]} yDomain={[0, 200]}
        barSize={26} xh={80} yFs={7} sw={1.6} boxStroke="#1a1a1a" axisW={1.6} brackets={hBrackets}
        tick={makeTick(hCategories, hCounts, { fs: 8.5, bold: false, rotate: true, dx: -1, dy: 6, lh: 9.5, fill: '#222' })} />
      <BoxPanel r={{ x0: 532, y0: 440, x1: 727, y1: 570 }} rows={iRows} yTicks={[0, 50, 100, 150, 200]} yDomain={[0, 200]}
        barSize={20} xh={80} yFs={9.5} sw={2} brackets={iBrackets}
        tick={makeTick(iCategories, iCounts, { fs: 11, bold: true, rotate: true, dx: -2, dy: 8, lh: 11.5 })} />
      <BoxPanel r={{ x0: 56, y0: 723, x1: 247, y1: 850 }} rows={jRows} yTicks={[0, 50, 100, 150, 200, 250]} yDomain={[0, 250]}
        barSize={23} xh={80} yFs={9.5} sw={2} brackets={jBrackets}
        tick={makeTick(jCategories, jCounts, { fs: 11, bold: true, rotate: true, dx: -1, dy: 6, lh: 11.5 })} />

      <KMPanel />

      <svg width={729} height={923} style={{ position: 'absolute', left: 0, top: 0, pointerEvents: 'none' }}>
        <T x={3} y={14} s="A" fs={13} />
        <T x={231} y={14} s="B" fs={13} />
        <T x={490} y={14} s="C" fs={13} />
        <T x={3} y={215} s="D" fs={13} />
        <T x={243} y={215} s="E" fs={13} />
        <T x={492} y={215} s="F" fs={13} />
        <T x={3} y={428} s="G" fs={13} />
        <T x={247} y={428} s="H" fs={13} />
        <T x={497} y={428} s="I" fs={13} />
        <T x={3} y={677} s="J" fs={13} />
        <T x={307} y={677} s="K" fs={13} />

        <T x={16} y={101} s="Reads per million" fs={10} a="middle" rot />
        <T x={270} y={38} s="p<0.0001" />
        <T x={267} y={50.5} s="r = -0.2608" />
        <T x={355} y={187} s="miR-132" a="middle" />
        <T x={237} y={95} s="SIRT1" a="middle" rot />
        <T x={521.5} y={39.5} s="p<0.0001" />
        <T x={523} y={52} s="r = 0.511" />
        <T x={602} y={187} s="miR-132" a="middle" />
        <T x={497} y={92} s="TGFB1" a="middle" rot />
        <T x={42} y={241} s="p<0.0001" />
        <T x={38} y={253.5} s="r = 0.5019" />
        <T x={106} y={386} s="miR-132" a="middle" />
        <T x={17} y={295} s="TIMP-1" a="middle" rot />
        <T x={289} y={237} s="p<0.0001" />
        <T x={287} y={249} s="r = 0.3763" />
        <T x={355} y={386} s="miR-132" a="middle" />
        <T x={259} y={292} s="COL4A1" a="middle" rot />
        <T x={535} y={238.5} s="p = 0.0249" />
        <T x={542} y={250.5} s="r = 0.12" />
        <T x={622} y={386} s="miR-132" a="middle" />
        <T x={509} y={293} s="AFP" a="middle" rot />
        <T x={37} y={453.5} s="p<0.0001" />
        <T x={36} y={465} s="r = 0.2867" />
        <T x={120} y={604} s="miR-132" a="middle" />
        <T x={17} y={515} s="LAMB1" a="middle" rot />
        <T x={273} y={518} s="Reads per million" fs={9.5} a="middle" rot />
        <T x={393} y={454.5} s="P<0.05" fs={9.5} w={400} a="middle" fill="#333" />
        <T x={506} y={505} s="Reads per million" fs={12} a="middle" rot />
        <T x={626} y={432.5} s="P<0.01" fs={11.5} w={400} a="middle" fill="#333" />
        <T x={31} y={787} s="Reads per million" fs={12} a="middle" rot />
        <T x={131} y={746} s="P<0.001" fs={11.5} w={400} a="middle" fill="#333" />
        <T x={173} y={725} s="P<0.05" fs={11.5} w={400} a="middle" fill="#333" />
        <T x={368} y={686.5} s="Effect of miR-132 expression on HCC survival" fs={9.3} fill="#222" />
        <T x={415} y={715} s="P=0.029" fs={8.5} w={400} fill="#333" />
        <rect x={522} y={708} width={16} height={6} fill="#2f3a9c" />
        <rect x={522} y={720} width={16} height={6.5} fill="#b52a2e" />
        <T x={548} y={714} s="Low expression (n=275)" fs={7.8} fill="#222" />
        <T x={548} y={726} s="High expression (n=93 )" fs={7.8} fill="#222" />
        <T x={321} y={775} s="Survival (probability)" fs={11} a="middle" rot fill="#222" />
        <T x={482} y={918} s="Time (days)" fs={11} a="middle" fill="#222" />
      </svg>
    </div>
  );
}
